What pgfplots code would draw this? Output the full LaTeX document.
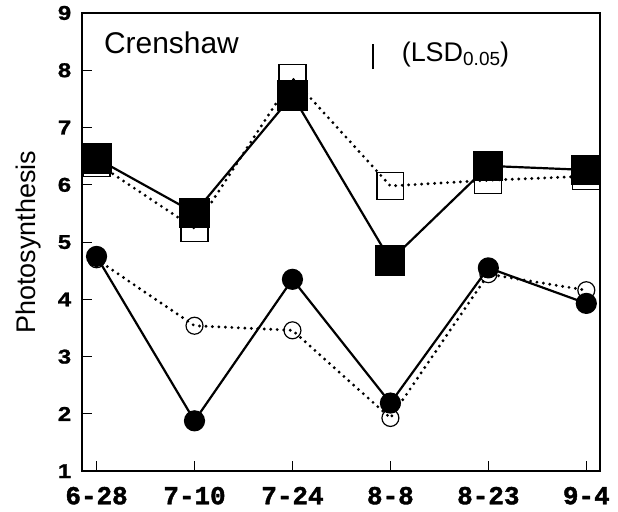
\documentclass[border=0pt]{standalone}
\usepackage{fontspec}
\setmainfont{Liberation Sans}
\setmonofont{Liberation Mono}
\newfontfamily\ytickfont{Liberation Sans Bold}[FakeBold=1.2, FakeStretch=1.2]
\newfontfamily\xtickfont{Liberation Mono Bold}[FakeBold=1.5]
\usepackage{pgfplots}
\pgfplotsset{compat=1.18}
\begin{document}
\begin{tikzpicture}
\begin{axis}[
  scale only axis, width=519pt, height=459pt,
  xmin=-0.15, xmax=5.14, ymin=1, ymax=9,
  xtick={0,...,5}, xticklabels={6-28,7-10,7-24,8-8,8-23,9-4},
  ytick={1,...,9},
  axis line style={line width=2pt},
  tick style={line width=1pt, black},
  major tick length=10pt,
  tick pos=left, tick align=inside,
  /pgf/number format/assume math mode=true,
  yticklabel style={font=\fontsize{20}{20}\selectfont\ytickfont, inner sep=1pt, xshift=-9.5pt},
  xticklabel style={font=\fontsize{26}{26}\selectfont\xtickfont, inner sep=1pt, yshift=-14.5pt},
  ylabel={Photosynthesis},
  ylabel style={font=\fontsize{27}{27}\selectfont},
  ylabel shift=12pt,
  clip=false,
]
% open squares, dotted
\addplot[black, line width=3.2pt, dash pattern=on 0pt off 6.5pt, line cap=round,
  mark=square, mark size=13.5pt, mark options={solid, line width=1.2pt}]
  coordinates {(0,6.38)(1,5.24)(2,7.86)(3,5.98)(4,6.08)(5,6.15)};
% open circles, dotted
\addplot[black, line width=3.2pt, dash pattern=on 0pt off 6.5pt, line cap=round,
  mark=o, mark size=8.5pt, mark options={solid, line width=1.2pt}]
  coordinates {(0,4.70)(1,3.54)(2,3.46)(3,1.93)(4,4.44)(5,4.16)};
% filled squares, solid
\addplot[black, line width=2.2pt, mark=square*, mark size=14pt]
  coordinates {(0,6.46)(1,5.51)(2,7.56)(3,4.68)(4,6.33)(5,6.26)};
% filled circles, solid
\addplot[black, line width=2.2pt, mark=*, mark size=9.5pt]
  coordinates {(0,4.75)(1,1.88)(2,4.35)(3,2.19)(4,4.55)(5,3.93)};
% LSD bar
\addplot[black, line width=1.5pt] coordinates {(2.82,8.02)(2.82,8.45)};
\node[anchor=base west, font=\fontsize{30}{30}\selectfont] at (axis cs:0.04,8.30) {Crenshaw};
\node[anchor=base west, font=\fontsize{27}{27}\selectfont] at (axis cs:3.08,8.16)
  {(LSD\raisebox{-0.15em}{\fontsize{19}{19}\selectfont 0.05})};
\end{axis}
\path (current axis.south west) ++(-82pt,-40pt) coordinate (bl);
\path (current axis.north east) ++(18pt,13pt) coordinate (tr);
\path (bl) rectangle (tr);
\end{tikzpicture}
\end{document}
